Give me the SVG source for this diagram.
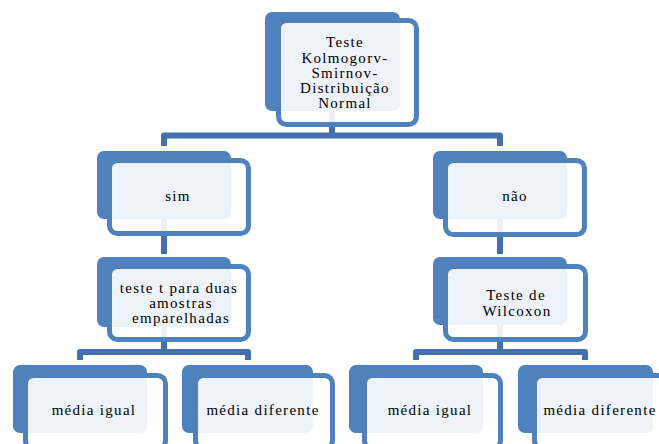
<svg xmlns="http://www.w3.org/2000/svg" width="659" height="444" viewBox="0 0 659 444">
<style>
.back{fill:#4F81BD}
.front{fill:#FFFFFF;fill-opacity:0.9;stroke:#4F81BD;stroke-width:5}
.conn{fill:none;stroke:#4570AD;stroke-width:6;stroke-linejoin:round}
text{font-family:"Liberation Serif","Times New Roman",serif;font-size:15px;fill:#000;text-anchor:middle;letter-spacing:1.3px}
</style>
<rect width="659" height="444" fill="#FFFFFF"/>
<g id="connectors">
<path class="conn" d="M332 111 V135.5"/>
<path class="conn" d="M164 146 V135.5 H500 V146"/>
<path class="conn" d="M164 219 V254"/>
<path class="conn" d="M500 219 V254"/>
<path class="conn" d="M164 327 V352"/>
<path class="conn" d="M80 360 V352 H248 V360"/>
<path class="conn" d="M500 325 V352"/>
<path class="conn" d="M416 360 V352 H585 V360"/>
</g>
<g id="n-root">
<rect class="back" x="265" y="12" width="135" height="99" rx="7"/>
<rect class="front" x="278.5" y="20.5" width="138" height="104" rx="8"/>
<text x="345" y="47">Teste</text>
<text x="345" y="63">Kolmogorv-</text>
<text x="345" y="78">Smirnov-</text>
<text x="345" y="93">Distribuição</text>
<text x="345" y="108">Normal</text>
</g>
<g id="n-sim">
<rect class="back" x="97" y="151" width="134" height="68" rx="7"/>
<rect class="front" x="109.5" y="160.5" width="139" height="73" rx="8"/>
<text x="178" y="201">sim</text>
</g>
<g id="n-nao">
<rect class="back" x="433" y="151" width="134" height="68" rx="7"/>
<rect class="front" x="445.5" y="160.5" width="139" height="74" rx="8"/>
<text x="515" y="201">não</text>
</g>
<g id="n-testet">
<rect class="back" x="97" y="257" width="134" height="70" rx="7"/>
<rect class="front" x="109.5" y="266.5" width="139" height="73" rx="8"/>
<text x="179" y="293">teste t para duas</text>
<text x="181" y="308">amostras</text>
<text x="181" y="323">emparelhadas</text>
</g>
<g id="n-wilcoxon">
<rect class="back" x="433" y="257" width="134" height="68" rx="7"/>
<rect class="front" x="445.5" y="266.5" width="140" height="73" rx="8"/>
<text x="516" y="300">Teste de</text>
<text x="517" y="316">Wilcoxon</text>
</g>
<g id="n-igual-1">
<rect class="back" x="13" y="365" width="134" height="68" rx="7"/>
<rect class="front" x="25.5" y="375.5" width="140" height="73" rx="8"/>
<text x="94" y="415">média igual</text>
</g>
<g id="n-diferente-1">
<rect class="back" x="182" y="365" width="131" height="68" rx="7"/>
<rect class="front" x="195.5" y="375.5" width="137" height="73" rx="8"/>
<text x="263" y="415">média diferente</text>
</g>
<g id="n-igual-2">
<rect class="back" x="349" y="365" width="134" height="68" rx="7"/>
<rect class="front" x="364.5" y="375.5" width="136" height="73" rx="8"/>
<text x="430" y="415">média igual</text>
</g>
<g id="n-diferente-2">
<rect class="back" x="518" y="365" width="135" height="68" rx="7"/>
<rect class="front" x="534.5" y="375.5" width="140" height="73" rx="8"/>
<text x="600" y="415">média diferente</text>
</g>
</svg>
